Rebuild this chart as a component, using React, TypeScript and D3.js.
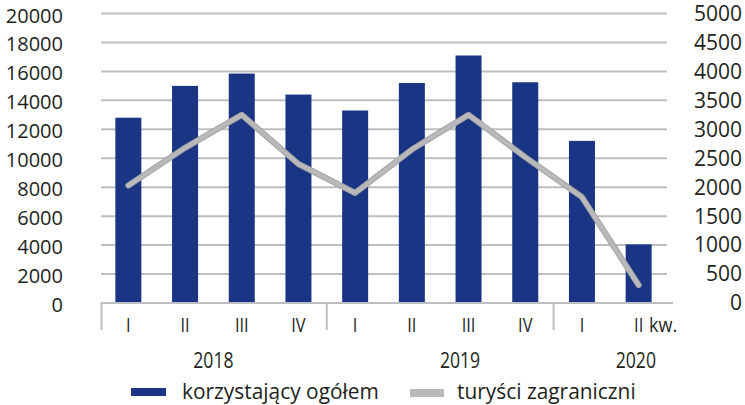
import React from 'react';
import * as d3 from 'd3';

// kwartały 2018 I - 2020 II
const quarters = ['I', 'II', 'III', 'IV', 'I', 'II', 'III', 'IV', 'I', 'II'];
const totalGuests = [12800, 15000, 15850, 14400, 13300, 15200, 17100, 15250, 11200, 4050];
const foreignTourists = [2030, 2680, 3250, 2400, 1900, 2650, 3250, 2520, 1830, 310];
const years = ['2018', '2019', '2020'];
const yearAnchor = [1.5, 5.85, 8.95]; // position in category index
const groupEnds = [4, 8]; // dividers after these many quarters
const leftTicks = [0, 2000, 4000, 6000, 8000, 10000, 12000, 14000, 16000, 18000, 20000];
const rightTicks = [0, 500, 1000, 1500, 2000, 2500, 3000, 3500, 4000, 4500, 5000];
const legendLabels = ['korzystający ogółem', 'turyści zagraniczni'];

const W = 745;
const H = 405;
const blue = '#1a3584';
const gray = '#b9b9bb';
const gridColor = '#bebec2';
const textColor = '#231f20';
const font = '"Open Sans", "Noto Sans", sans-serif';

const App = () => {
  const idx = quarters.map((_, i) => i);
  const x = d3.scaleBand<number>().domain(idx).range([100, 667]).padding(0);
  const cx = (i: number) => (x(i) as number) + x.bandwidth() / 2;
  const y = d3.scaleLinear().domain([0, 20000]).range([303, 13.5]);
  const y2 = d3.scaleLinear().domain([0, 5000]).range([303, 13.5]);
  const barW = 26;

  const line = d3
    .line<number>()
    .x((_, i) => cx(i))
    .y((d) => y2(d));

  const squeeze = (tx: number, ty: number, k = 0.82) => `translate(${tx},${ty}) scale(${k},1)`;

  return (
    <svg width={W} height={H} style={{ position: 'absolute', left: 0, top: 0 }}>
      <rect width={W} height={H} fill="#fff" />
      {/* grid */}
      {leftTicks.slice(1).map((t) => (
        <line key={t} x1={101} x2={667} y1={y(t)} y2={y(t)} stroke={gridColor} strokeWidth={2} />
      ))}
      {/* bars */}
      {totalGuests.map((v, i) => (
        <rect key={i} x={cx(i) - barW / 2} y={y(v)} width={barW} height={y(0) - y(v)} fill={blue} />
      ))}
      {/* line */}
      <path d={line(foreignTourists) || ''} fill="none" stroke="#a4a4a6" strokeWidth={6} strokeLinejoin="round" strokeLinecap="round" />
      <path d={line(foreignTourists) || ''} fill="none" stroke={gray} strokeWidth={4} strokeLinejoin="round" strokeLinecap="round" />
      {/* x axis */}
      <line x1={101} x2={673} y1={y(0)} y2={y(0)} stroke={gridColor} strokeWidth={2} />
      {[0, ...groupEnds].map((g) => {
        const gx = g === 0 ? 101.5 : (x(g) as number);
        return <line key={g} x1={gx} x2={gx} y1={y(0)} y2={330} stroke={gridColor} strokeWidth={2} />;
      })}
      {quarters.map((q, i) => (
        <text key={i} transform={squeeze(cx(i), 332)} textAnchor="middle" fontSize={20} fill={textColor} fontFamily={font}>
          {q}
        </text>
      ))}
      <text transform={squeeze(649, 332, 0.9)} fontSize={20} fill={textColor} fontFamily={font}>
        kw.
      </text>
      {years.map((yr, i) => (
        <text
          key={yr}
          transform={squeeze(cx(0) + yearAnchor[i] * x.step(), 368)}
          textAnchor="middle"
          fontSize={21.5}
          fill={textColor}
          fontFamily={font}
        >
          {yr}
        </text>
      ))}
      {/* left axis */}
      {leftTicks.map((t) => (
        <text key={t} x={63} y={y(t) + 2} dy="0.35em" textAnchor="end" fontSize={20} fill={textColor} fontFamily={font}>
          {t}
        </text>
      ))}
      {/* right axis */}
      {rightTicks.map((t) => (
        <text key={t} x={742} y={y2(t)} dy="0.35em" textAnchor="end" fontSize={21} fill={textColor} fontFamily={font}>
          {t}
        </text>
      ))}
      {/* legend */}
      <rect x={131} y={388} width={35} height={8} fill={blue} />
      <text transform={squeeze(182, 399, 0.95)} fontSize={22} fill={textColor} fontFamily={font}>
        {legendLabels[0]}
      </text>
      <rect x={410} y={389} width={34} height={8} fill={gray} />
      <text transform={squeeze(457, 399, 0.95)} fontSize={22} fill={textColor} fontFamily={font}>
        {legendLabels[1]}
      </text>
    </svg>
  );
};

export default App;
